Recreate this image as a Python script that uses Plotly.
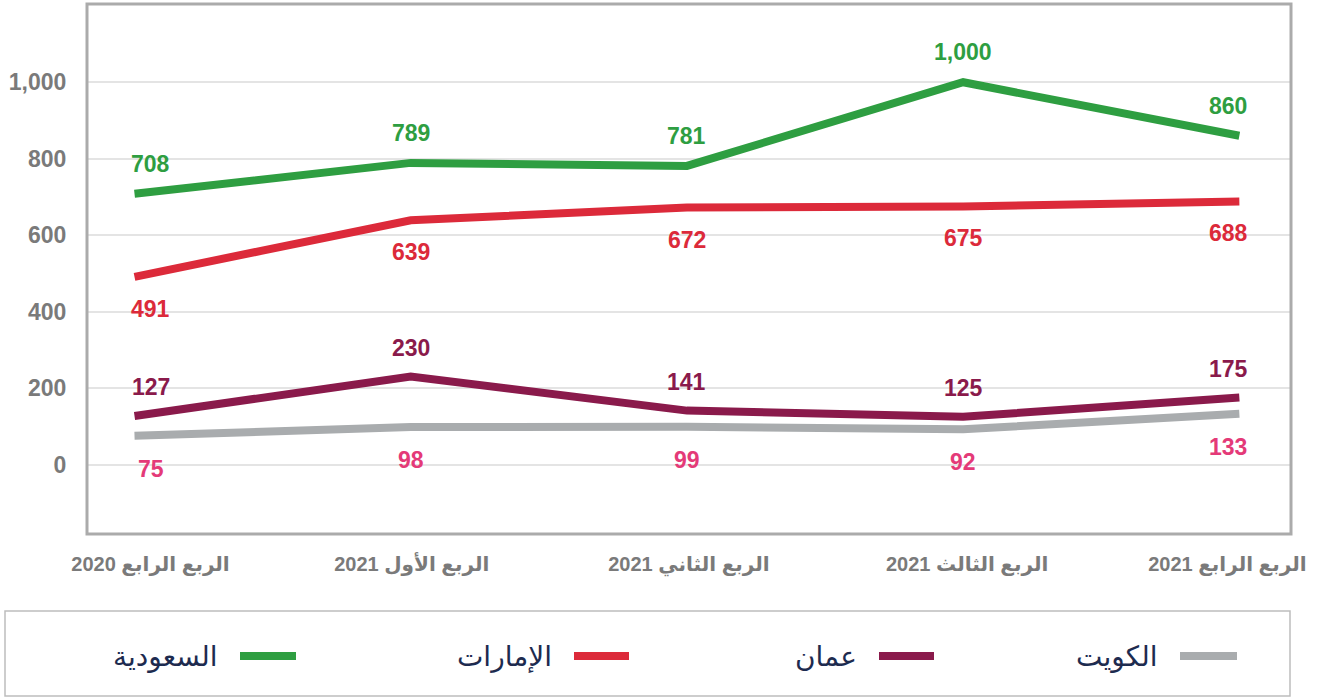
import plotly.graph_objects as go

# ---------------- data ----------------
quarters = ["الربع الرابع 2020", "الربع الأول 2021", "الربع الثاني 2021",
            "الربع الثالث 2021", "الربع الرابع 2021"]
series_names = ["السعودية", "الإمارات", "عمان", "الكويت"]
saudi = [708, 789, 781, 1000, 860]
uae = [491, 639, 672, 675, 688]
oman = [127, 230, 141, 125, 175]
kuwait = [75, 98, 99, 92, 133]
y_ticks = [0, 200, 400, 600, 800, 1000]

# ---------------- style ----------------
W, H = 1322, 698
L, R, T, B = 87, 31, 4, 164
line_colors = ["#2E9E41", "#DC2A3A", "#8A1A4B", "#A9ACAE"]
label_colors = ["#2E9E41", "#DC2A3A", "#8A1A4B", "#E43A78"]
label_shift = [30, -32, 29, -33]          # pixels, positive = up
values = [saudi, uae, oman, kuwait]
edge_nudge_px = [16, 1, 2, 4, -12]        # horizontal nudge of tick labels (px)

pw, ph = W - L - R, H - T - B
x_range = [-0.172, 4.187]
unit_px = pw / (x_range[1] - x_range[0])


def px_x(px):
    return (px - L) / pw


def px_y(py):
    return (H - B - py) / ph


fig = go.Figure()
xs = list(range(len(quarters)))
for name, vals, col in zip(series_names, values, line_colors):
    fig.add_trace(go.Scatter(x=xs, y=vals, mode="lines", name=name,
                             line=dict(color=col, width=8),
                             showlegend=False, hoverinfo="skip"))

annotations = []
n = len(quarters)
for vals, col, sh in zip(values, label_colors, label_shift):
    for i, v in enumerate(vals):
        xsh = 16 if i == 0 else (-11 if i == n - 1 else 0)
        annotations.append(dict(x=i, y=v, xref="x", yref="y", text=f"{v:,}",
                                showarrow=False, yshift=sh, xshift=xsh,
                                xanchor="center", yanchor="middle",
                                font=dict(family="Liberation Sans, Arial", size=23,
                                          color=col, weight="bold")))

shapes = [dict(type="rect", xref="paper", yref="paper", x0=0, x1=1, y0=0, y1=1,
               line=dict(color="#ABABAB", width=3), layer="above")]

# legend (drawn manually, right-to-left: text on the left of the swatch)
leg_line_x = [(236, 300), (570, 633), (875, 938), (1176, 1241)]
leg_y = 656
shapes.append(dict(type="rect", xref="paper", yref="paper",
                   x0=px_x(5), x1=px_x(1290), y0=px_y(696), y1=px_y(611),
                   line=dict(color="#BDBDBD", width=1.5), layer="above"))
for name, col, (x0, x1) in zip(series_names, line_colors, leg_line_x):
    shapes.append(dict(type="path", xref="paper", yref="paper",
                       path=f"M {px_x(x0 + 4)},{px_y(leg_y)} L {px_x(x1 - 4)},{px_y(leg_y)}",
                       line=dict(color=col, width=8)))
    annotations.append(dict(x=px_x(x0 - 16), y=px_y(leg_y), xref="paper", yref="paper",
                            text=name, showarrow=False, xanchor="right", yanchor="middle",
                            font=dict(family="DejaVu Sans", size=28, color="#1D2B4F")))

fig.update_layout(
    width=W, height=H,
    margin=dict(l=L, r=R, t=T, b=B),
    paper_bgcolor="white", plot_bgcolor="white",
    xaxis=dict(range=x_range,
               tickvals=[i + d / unit_px for i, d in zip(xs, edge_nudge_px)],
               ticktext=quarters,
               showgrid=False, zeroline=False, showline=False,
               ticks="outside", ticklen=12, tickcolor="rgba(0,0,0,0)",
               tickfont=dict(family="Liberation Sans, DejaVu Sans", size=20,
                             color="#7A7A7A", weight="bold")),
    yaxis=dict(range=[-181.8, 1204.6], tickvals=y_ticks, tickformat=",d",
               showgrid=True, gridcolor="#E4E4E4", gridwidth=1.5,
               zeroline=False, showline=False,
               ticks="outside", ticklen=15, tickcolor="rgba(0,0,0,0)",
               tickfont=dict(family="Liberation Sans, Arial", size=23,
                             color="#7A7A7A", weight="bold")),
    shapes=shapes,
    annotations=annotations,
)

fig.write_html("out.html", config={"displayModeBar": False},
               post_script="document.body.style.margin='0';document.body.style.overflow='hidden';")
